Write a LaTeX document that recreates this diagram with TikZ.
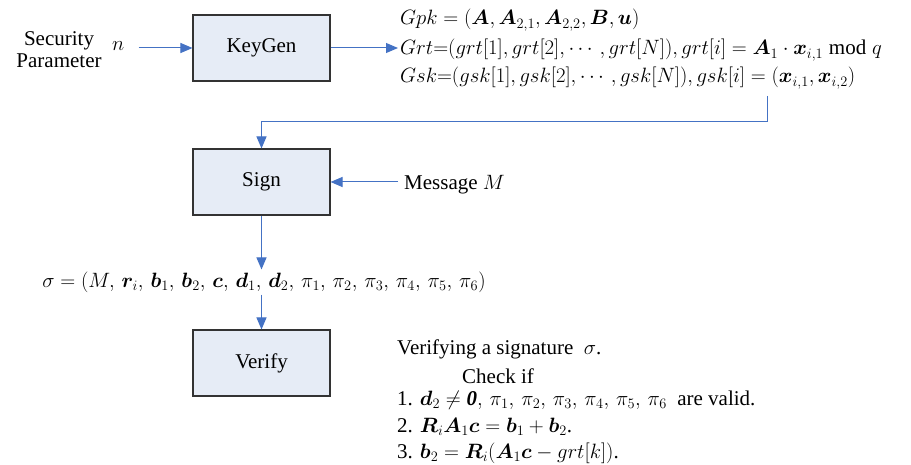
\documentclass[tikz,border=0pt]{standalone}
\usepackage{amsmath}
\usepackage{bm}
\usepackage{fontspec}
\setmainfont{Liberation Serif}
\usetikzlibrary{arrows.meta,positioning}

\definecolor{boxfill}{RGB}{230,236,246}
\definecolor{flowblue}{RGB}{68,114,196}

\begin{document}
\begin{tikzpicture}[
  x=1pt, y=-1pt,
  font=\fontsize{21}{25}\selectfont,
  algo/.style={draw=black!80, line width=1.1pt, fill=boxfill, minimum width=137pt, minimum height=66pt},
  txt/.style={inner sep=0pt, anchor=base west},
  flow/.style={-{Triangle[length=12pt,width=10pt]}, draw=flowblue, line width=1pt}
]
\useasboundingbox (0,0) rectangle (911,465);

% the three algorithms
\node[algo] (kg) at (261.5,48) {KeyGen};
\node[algo] (sg) at (261.5,182) {Sign};
\node[algo] (vf) at (261.5,363) {Verify};

% input of KeyGen
\node[align=center, inner sep=0pt] (secpar) at (59,50) {Security\\[-3pt]Parameter};
\node[txt] (secn) at (112,51) {$n$};
\draw[flow] ([xshift=14pt]secn.east |- kg.west) -- (kg.west);

% keys
\node[txt] (gpk) at (400,25) {$Gpk = (\bm{A}, \bm{A}_{2,1}, \bm{A}_{2,2}, \bm{B}, \bm{u})$};
\node[txt] (grt) at (400,55) {$Grt{=}(grt[1], grt[2], \cdots, grt[N]), grt[i] = \bm{A}_1 \cdot \bm{x}_{i,1} \bmod q$};
\node[txt] (gsk) at (400,83) {$Gsk{=}(gsk[1], gsk[2], \cdots, gsk[N]), gsk[i] = (\bm{x}_{i,1}, \bm{x}_{i,2})$};
\draw[flow] (kg.east) -- ([xshift=-2pt]kg.east -| grt.west);
\coordinate (tap) at (767,96);
\draw[flow] (tap) -- ++(0,26) -| (sg.north);

% signing
\node[txt] (msg) at (404,190) {Message $M$};
\draw[flow] ([xshift=-6pt]msg.west |- sg.east) -- (sg.east);
\node[inner sep=2pt] (sig) at (264,282) {$\sigma = (M,\, \bm{r}_i,\, \bm{b}_1,\, \bm{b}_2,\, \bm{c},\, \bm{d}_1,\, \bm{d}_2,\, \pi_1,\, \pi_2,\, \pi_3,\, \pi_4,\, \pi_5,\, \pi_6)$};
\draw[flow] (sg.south) -- (sg.south |- sig.north);
\draw[flow] (vf.north |- sig.south) -- (vf.north);

% verification conditions
\node[txt] (chk0) at (397,355) {Verifying a signature \ $\sigma$.};
\node[txt] (chk1) at (462,383) {Check if};
\node[txt] (chk2) at (397,405) {1. $\bm{d}_2 \neq \bm{\mathit{0}},\, \pi_1,\, \pi_2,\, \pi_3,\, \pi_4,\, \pi_5,\, \pi_6$ \ are valid.};
\node[txt] (chk3) at (397,432) {2. $\bm{R}_i\bm{A}_1\bm{c} = \bm{b}_1 + \bm{b}_2$.};
\node[txt] (chk4) at (397,458) {3. $\bm{b}_2 = \bm{R}_i(\bm{A}_1\bm{c} - grt[k])$.};
\end{tikzpicture}
\end{document}
